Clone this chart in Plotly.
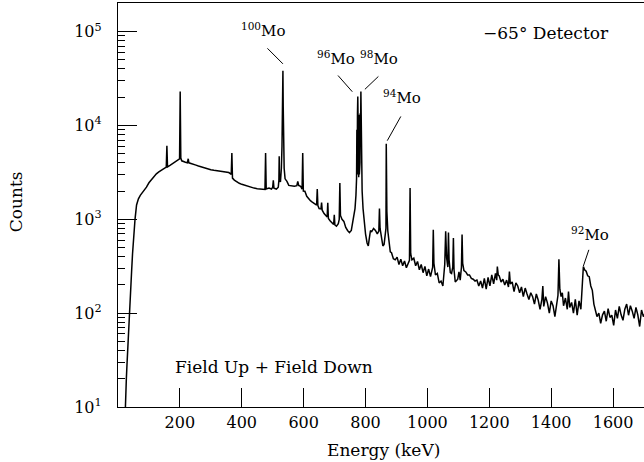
import math
import plotly.graph_objects as go

# ---------------- data ----------------
energy_low = [21, 23, 25, 27, 29, 31, 33, 35, 37, 39, 41, 44, 47, 51, 55, 60, 66, 72, 78, 85,
              92, 100, 108, 116, 124, 132, 140, 148, 154, 156, 158, 160, 168, 176, 184, 190, 196, 199, 201, 203,
              206, 212, 218, 224, 227, 229, 236, 244, 252, 260, 268, 276, 284, 292, 300, 310, 320, 330, 340, 350,
              358, 364, 366, 368, 370, 376, 384, 392, 400, 410, 420, 430, 440, 450, 460, 470, 475, 477, 479, 488,
              496, 500, 502, 504, 512, 518, 520, 521, 522, 525, 528, 530, 531, 532, 533, 534, 535, 537, 540, 546,
              552, 560, 570, 578, 581, 584, 590, 595, 597, 599, 604, 610, 616, 622, 628, 634, 640, 642, 644, 646,
              650, 656, 658, 660, 666, 672, 676, 678, 680, 686, 692, 697, 699, 701, 706, 712, 715, 717, 719, 724,
              730, 736, 742, 748, 754, 760, 764, 766, 769, 771, 772, 773, 774, 775, 776, 777, 778, 779, 780, 781,
              782, 783, 784, 785, 786, 787, 789, 792, 796, 800, 805, 809, 812, 816, 820, 826, 832, 838, 843, 845,
              847, 852, 856, 860, 864, 866, 867, 869, 872, 876, 880]
counts_low = [5, 10, 14, 20, 28, 40, 55, 75, 100, 135, 170, 280, 430, 700, 1000, 1420, 1650, 1800, 1900, 2050,
              2200, 2450, 2650, 2850, 3050, 3200, 3350, 3480, 3550, 3600, 6080, 3620, 3750, 3900, 4000, 4150, 4250, 4400, 23000, 4500,
              4200, 4100, 4050, 4000, 4420, 4000, 3950, 3850, 3780, 3700, 3620, 3560, 3500, 3420, 3380, 3330, 3300, 3280, 3250, 3200,
              3150, 3050, 3000, 5080, 2750, 2620, 2500, 2420, 2360, 2300, 2250, 2200, 2150, 2120, 2100, 2090, 2080, 5080, 2100, 2150,
              2100, 2200, 2600, 2150, 2100, 2200, 2600, 4700, 2700, 2500, 3500, 6000, 15700, 14000, 38200, 15700, 6000, 3500, 2700, 2540,
              2300, 2260, 2250, 2280, 2540, 2300, 2250, 2100, 5080, 2000, 1990, 1760, 1650, 1580, 1520, 1480, 1450, 1420, 2100, 1400,
              1300, 1290, 1510, 1250, 1150, 1080, 1060, 1500, 1020, 960, 920, 880, 1120, 870, 843, 900, 1000, 2440, 1100, 1000,
              950, 820, 760, 720, 760, 1000, 1200, 1300, 1800, 2700, 9000, 3000, 13500, 20400, 3500, 12000, 2800, 13000, 3000, 12500,
              4000, 13500, 9000, 23000, 6000, 3000, 2000, 1300, 850, 700, 560, 520, 620, 760, 740, 800, 760, 700, 750, 1300,
              800, 600, 520, 540, 700, 800, 6400, 1200, 750, 560, 450]

energy_high = [884, 890, 896, 902, 908, 914, 920, 926, 932, 938, 942, 944, 946, 950, 956, 962, 968, 974, 980, 986,
               992, 998, 1004, 1010, 1017, 1019, 1021, 1026, 1032, 1038, 1044, 1050, 1056, 1059, 1062, 1066, 1068, 1070, 1074, 1078,
               1082, 1084, 1086, 1090, 1094, 1098, 1102, 1106, 1110, 1112, 1114, 1118, 1124, 1130, 1136, 1142, 1148, 1154, 1160, 1166,
               1172, 1178, 1184, 1190, 1196, 1202, 1208, 1214, 1220, 1224, 1226, 1229, 1232, 1238, 1244, 1250, 1256, 1262, 1265, 1268,
               1274, 1280, 1286, 1292, 1298, 1304, 1310, 1316, 1322, 1328, 1334, 1340, 1346, 1352, 1358, 1364, 1370, 1373, 1376, 1382,
               1388, 1394, 1400, 1406, 1412, 1418, 1422, 1425, 1428, 1432, 1436, 1440, 1446, 1452, 1456, 1460, 1466, 1472, 1478, 1484,
               1490, 1496, 1500, 1504, 1508, 1513, 1518, 1523, 1528, 1533, 1538, 1542, 1548, 1554, 1560, 1566, 1572, 1578, 1584, 1590,
               1596, 1602, 1608, 1614, 1620, 1626, 1632, 1638, 1644, 1650, 1656, 1662, 1668, 1674, 1680, 1686, 1692, 1698, 1704]
counts_high = [440, 380, 370, 395, 330, 375, 320, 360, 305, 345, 365, 2160, 430, 370, 385, 320, 355, 290, 330, 270,
               315, 250, 295, 245, 310, 776, 340, 255, 265, 210, 220, 195, 330, 745, 390, 310, 722, 370, 270, 265,
               310, 633, 290, 215, 220, 230, 275, 225, 310, 689, 340, 285, 275, 255, 255, 235, 230, 220, 225, 195,
               220, 185, 235, 180, 240, 195, 255, 205, 265, 225, 314, 255, 250, 215, 230, 200, 225, 190, 277, 205,
               215, 170, 210, 195, 165, 190, 150, 185, 160, 140, 165, 150, 125, 160, 138, 110, 140, 194, 118, 150,
               128, 100, 135, 120, 92, 125, 155, 374, 180, 150, 165, 120, 145, 110, 170, 115, 130, 100, 140, 95,
               135, 110, 230, 314, 290, 280, 250, 245, 195, 175, 125, 110, 92, 100, 78, 96, 105, 82, 112, 90,
               95, 74, 108, 88, 118, 96, 84, 110, 125, 95, 120, 105, 88, 115, 96, 72, 108, 92, 100]

energy_keV = energy_low + energy_high
counts = counts_low + counts_high

label_names = ["<sup>100</sup>Mo", "<sup>96</sup>Mo", "<sup>98</sup>Mo", "<sup>94</sup>Mo", "<sup>92</sup>Mo"]
label_peak_keV = [533, 775, 785, 867, 1504]

x_tick_vals = [200, 400, 600, 800, 1000, 1200, 1400, 1600]
y_tick_vals = [10, 100, 1000, 10000, 100000]
y_tick_text = ["10<sup>1</sup>", "10<sup>2</sup>", "10<sup>3</sup>", "10<sup>4</sup>", "10<sup>5</sup>"]

# ---------------- figure ----------------
FONT = "DejaVu Serif"
fig = go.Figure()
fig.add_trace(go.Scatter(x=energy_keV, y=counts, mode="lines",
                         line=dict(color="black", width=1.5), hoverinfo="skip"))

peak_counts = [counts[energy_keV.index(e)] for e in label_peak_keV]
# leader-line geometry (pixels): tail offset and shift of the line end from the peak top
arrow_geom = [(-17, -17, 0, 7), (-15.6, -17.7, -5.5, 4.7), (15, -14.3, 4, 2.2),
              (14.4, -25.7, 1, 3), (6, -17.7, 0, 0.5)]
text_pos = [(470, 5.017), (706, 4.715), (844.5, 4.718), (918, 4.308), (1525.6, 2.842)]

for name, e, c, (ax, ay, xs, ys), (tx, ty) in zip(label_names, label_peak_keV, peak_counts, arrow_geom, text_pos):
    fig.add_annotation(x=e, y=math.log10(c), xref="x", yref="y", text="",
                       showarrow=True, arrowhead=0, arrowwidth=1, arrowcolor="black",
                       ax=ax, ay=ay, xshift=xs, yshift=ys)
    fig.add_annotation(x=tx, y=ty, xref="x", yref="y", text=name, showarrow=False,
                       font=dict(family=FONT, size=15, color="black"))

fig.add_annotation(x=1383, y=4.982, xref="x", yref="y", text="\u221265\u00b0 Detector",
                   showarrow=False, font=dict(family=FONT, size=17, color="black"))
fig.add_annotation(x=504, y=1.424, xref="x", yref="y", text="Field Up + Field Down",
                   showarrow=False, font=dict(family=FONT, size=17, color="black"))
fig.add_annotation(x=0.505, y=-0.106, xref="paper", yref="paper", text="Energy (keV)",
                   xanchor="center", yanchor="middle",
                   showarrow=False, font=dict(family=FONT, size=17, color="black"))
fig.add_annotation(x=-0.195, y=0.508, xref="paper", yref="paper", text="Counts", textangle=-90,
                   xanchor="center", yanchor="middle",
                   showarrow=False, font=dict(family=FONT, size=17, color="black"))

minor_vals = [m * 10 ** k for k in range(1, 6) for m in range(2, 10)]

fig.update_layout(
    width=644, height=462,
    margin=dict(l=118, r=0, t=3, b=55),
    paper_bgcolor="white", plot_bgcolor="white",
    showlegend=False,
    font=dict(family=FONT, size=16, color="black"),
    xaxis=dict(range=[0, 1700], tickvals=x_tick_vals, ticks="inside", ticklen=19,
               tickwidth=1.2, tickcolor="black", showline=True, linecolor="black",
               linewidth=1.3, mirror=True, showgrid=False, zeroline=False,
               ticklabelstandoff=1, tickfont=dict(family=FONT, size=16)),
    yaxis=dict(type="log", range=[1, 5.305], tickvals=y_tick_vals, ticktext=y_tick_text,
               ticks="inside", ticklen=19, tickwidth=1.2, tickcolor="black",
               minor=dict(tickvals=minor_vals, ticks="inside", ticklen=7, tickwidth=1,
                          tickcolor="black", showgrid=False),
               showline=True, linecolor="black", linewidth=1.3, mirror=False,
               showgrid=False, zeroline=False, ticklabelstandoff=12,
               tickfont=dict(family=FONT, size=16)),
)

fig.write_html("out.html", config={"displayModeBar": False},
               post_script="document.body.style.margin='0';")
